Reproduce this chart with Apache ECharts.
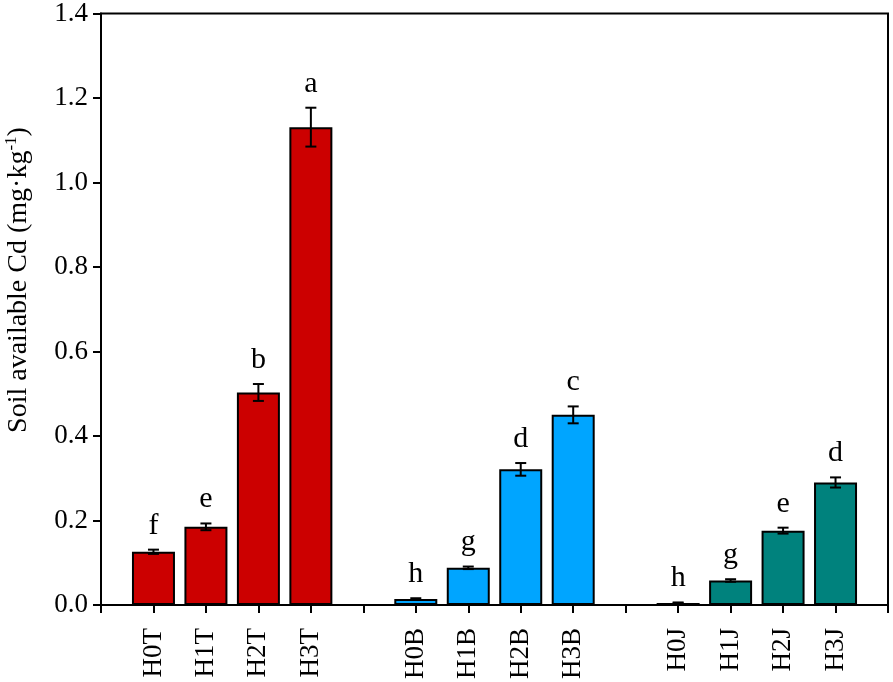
<!DOCTYPE html>
<html><head><meta charset="utf-8">
<script src="https://cdn.jsdelivr.net/npm/echarts@6/dist/echarts.min.js"></script>
<style>html,body{margin:0;padding:0;background:#fff}#c{width:893px;height:682px}</style>
</head><body><div id="c"></div>
<script>
const groupColors = ['#CC0000', '#00A5FF', '#00827D'];
const groupT = ['H0T', 'H1T', 'H2T', 'H3T'];
const groupB = ['H0B', 'H1B', 'H2B', 'H3B'];
const groupJ = ['H0J', 'H1J', 'H2J', 'H3J'];
const meansT = [0.126, 0.185, 0.503, 1.131];
const meansB = [0.014, 0.088, 0.321, 0.450];
const meansJ = [0.005, 0.058, 0.176, 0.290];
const errsT = [0.005, 0.008, 0.020, 0.046];
const errsB = [0.002, 0.003, 0.015, 0.020];
const errsJ = [0.001, 0.003, 0.007, 0.012];
const lettersT = ['f', 'e', 'b', 'a'];
const lettersB = ['h', 'g', 'd', 'c'];
const lettersJ = ['h', 'g', 'e', 'd'];
const yTicks = [0, 0.2, 0.4, 0.6, 0.8, 1.0, 1.2, 1.4];

const groups = [
  {labels: groupT, means: meansT, errs: errsT, letters: lettersT},
  {labels: groupB, means: meansB, errs: errsB, letters: lettersB},
  {labels: groupJ, means: meansJ, errs: errsJ, letters: lettersJ}
];
const cats = [''];
const barData = [null];
const errData = [];
groups.forEach((g, gi) => {
  g.labels.forEach((l, i) => {
    cats.push(l);
    barData.push({value: g.means[i], itemStyle: {color: groupColors[gi]}});
    errData.push([cats.length - 1, g.means[i], g.errs[i], g.letters[i]]);
  });
  cats.push('');
  barData.push(null);
});

const FONT = 'Liberation Serif';
const chart = echarts.init(document.getElementById('c'));
chart.setOption({
  animation: false,
  grid: {left: 101, right: 5, top: 13, bottom: 77, show: true, borderColor: '#000', borderWidth: 2, backgroundColor: 'transparent'},
  xAxis: {
    type: 'category', data: cats, boundaryGap: false,
    axisLine: {lineStyle: {color: '#000', width: 2}},
    axisTick: {show: true, interval: 0, length: 8, lineStyle: {color: '#000', width: 2}},
    axisLabel: {interval: 0, rotate: 90, fontFamily: FONT, fontSize: 27, color: '#000', margin: 23},
    splitLine: {show: false}
  },
  yAxis: {
    type: 'value', min: yTicks[0], max: yTicks[yTicks.length - 1], interval: 0.2,
    axisLine: {show: true, lineStyle: {color: '#000', width: 2}},
    axisTick: {show: true, length: 8, lineStyle: {color: '#000', width: 2}},
    axisLabel: {fontFamily: FONT, fontSize: 27, color: '#000', margin: 13, formatter: v => v.toFixed(1)},
    splitLine: {show: false}
  },
  graphic: [{
    type: 'text', x: 19, y: 280, rotation: Math.PI / 2,
    style: {
      text: '{n|Soil available Cd (mg·kg}{s|-1}{n|)}',
      align: 'center', verticalAlign: 'middle',
      rich: {
        n: {fontFamily: FONT, fontSize: 28, fill: '#000', lineHeight: 32},
        s: {fontFamily: FONT, fontSize: 17, fill: '#000', verticalAlign: 'top', lineHeight: 32, padding: [0, 0, 12, 0]}
      }
    }
  }],
  series: [
    {
      type: 'bar', data: barData, barWidth: 43,
      itemStyle: {borderColor: '#000', borderWidth: 2}
    },
    {
      type: 'custom', data: errData, z: 10,
      renderItem: (params, api) => {
        const x = api.value(0), m = api.value(1), e = api.value(2);
        const top = api.coord([x, m + e]);
        const bot = api.coord([x, m - e]);
        const cx = top[0];
        const hw = 5.5;
        const ls = {stroke: '#000', lineWidth: 2};
        return {
          type: 'group', children: [
            {type: 'line', shape: {x1: cx, y1: top[1], x2: cx, y2: bot[1]}, style: ls},
            {type: 'line', shape: {x1: cx - hw, y1: top[1], x2: cx + hw, y2: top[1]}, style: ls},
            {type: 'line', shape: {x1: cx - hw, y1: bot[1], x2: cx + hw, y2: bot[1]}, style: ls},
            {type: 'text', x: cx, y: top[1] - 9, style: {text: errData[params.dataIndex][3], fontFamily: FONT, fontSize: 30, fill: '#000', align: 'center', verticalAlign: 'bottom'}}
          ]
        };
      }
    }
  ]
});
</script></body></html>
